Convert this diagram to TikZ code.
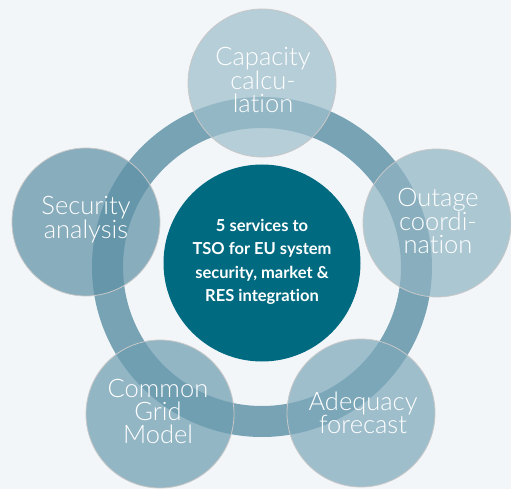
\documentclass[tikz,border=0pt]{standalone}
\usepackage{fontspec}
\setmainfont{Lato}[Ligatures={NoCommon}]
\newfontfamily\lightfont{Lato}[UprightFont={* Light},Ligatures={NoCommon}]
\definecolor{bgc}{RGB}{243,246,249}
\definecolor{ringc}{RGB}{120,163,180}
\definecolor{corec}{RGB}{0,106,128}
\definecolor{capc}{RGB}{159,191,204}
\definecolor{secc}{RGB}{95,145,166}
\definecolor{outc}{RGB}{144,181,196}
\definecolor{cgmc}{RGB}{111,158,178}
\definecolor{adqc}{RGB}{126,169,188}
\definecolor{edgec}{RGB}{200,200,200}
\begin{document}
\begin{tikzpicture}[x=1pt,y=-1pt,
  sat/.style={circle,minimum size=148pt,inner sep=0pt,draw=edgec,line width=0.8pt,fill opacity=0.72,text opacity=1},
  sattext/.style={text=white,align=center,font=\lightfont\fontsize{25.5}{23}\selectfont},
  coretext/.style={text=white,align=center,font=\bfseries\fontsize{16.5}{23.5}\selectfont}]
\fill[bgc] (0,0) rectangle (511,489);
\useasboundingbox (0,0) rectangle (511,489);
% ring
\coordinate (rc) at (262,267);
\draw[ringc,line width=31pt] (rc) circle[radius=154.5pt];
% core
\node[circle,fill=corec,minimum size=197pt,inner sep=0pt] (core) at (262,263) {};
\node[coretext] (coretxt) at (262,262) {5 services to\\TSO for EU system\\security, market \&\\RES integration};
% satellites
\node[sat,fill=capc] (cap) at (262,83) {};
\node[sat,fill=secc] (sec) at (86,222) {};
\node[sat,fill=outc] (out) at (437,223) {};
\node[sat,fill=cgmc] (cgm) at (160,414) {};
\node[sat,fill=adqc] (adq) at (361,413) {};
\node[sattext] (captxt) at (263,80) {Capacity\\calcu-\\lation};
\node[sattext] (sectxt) at (86,220) {Security\\analysis};
\node[sattext] (outtxt) at (438,221) {Outage\\coordi-\\nation};
\node[sattext] (cgmtxt) at (158,411) {Common\\Grid\\Model};
\node[sattext] (adqtxt) at (363,413) {Adequacy\\forecast};
\end{tikzpicture}
\end{document}
